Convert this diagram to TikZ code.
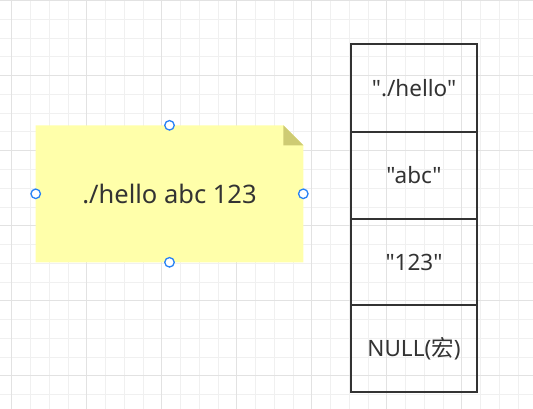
\documentclass[tikz,border=0pt]{standalone}
\usepackage{fontspec}
\setmainfont{Noto Sans}[Ligatures=TeXOff]
\newfontfamily\cjk{Noto Sans CJK SC}
\definecolor{gridminor}{RGB}{240,240,240}
\definecolor{gridmajor}{RGB}{226,226,226}
\definecolor{notefill}{RGB}{255,255,170}
\definecolor{foldfill}{RGB}{206,203,115}
\definecolor{ink}{RGB}{51,51,51}
\definecolor{handle}{RGB}{40,130,245}
\tikzset{
  cell/.style={draw=ink, line width=2.6pt, minimum width=125.7pt, minimum height=87pt, inner sep=0pt, text=ink, font=\fontsize{22.5}{26}\selectfont},
  grip/.style={circle, draw=handle, fill=white, line width=1.3pt, minimum size=9.5pt, inner sep=0pt},
  notetext/.style={text=ink, font=\fontsize{25.5}{30}\selectfont, inner sep=0pt}
}
\begin{document}
\begin{tikzpicture}[x=1pt,y=-1pt]
\useasboundingbox (0,0) rectangle (533,409);
\fill[white] (0,0) rectangle (533,409);
% grid
\foreach \i in {0,...,29} {
  \draw[gridminor, line width=0.9pt] ({11.7+18.75*(\i-1)},0) -- ({11.7+18.75*(\i-1)},409);
}
\foreach \i in {0,...,22} {
  \draw[gridminor, line width=0.9pt] (0,{0.7+18.75*\i}) -- (533,{0.7+18.75*\i});
}
\foreach \i in {0,...,7} {
  \draw[gridmajor, line width=1pt] ({11.7+75*\i},0) -- ({11.7+75*\i},409);
}
\foreach \i in {0,...,5} {
  \draw[gridmajor, line width=1pt] (0,{0.7+75*\i}) -- (533,{0.7+75*\i});
}
% note
\fill[notefill] (35.7,125.3) -- (283.3,125.3) -- (303.3,145.3) -- (303.3,262.3) -- (35.7,262.3) -- cycle;
\fill[foldfill] (283.3,125.3) -- (303.3,145.3) -- (283.3,145.3) -- cycle;
\node[notetext] (note) at (169.5,193.8) {./hello abc 123};
\coordinate (nn) at (169.5,125.3);
\coordinate (ns) at (169.5,262.3);
\coordinate (nw) at (35.7,193.8);
\coordinate (ne) at (303.3,193.8);
\node[grip] (h1) at (nn) {};
\node[grip] (h2) at (ns) {};
\node[grip] (h3) at (nw) {};
\node[grip] (h4) at (ne) {};
% table
\node[cell, minimum height=88pt] (c1) at (414,88) {"./hello"};
\node[cell, minimum height=87pt] (c2) at (414,175.5) {"abc"};
\node[cell, minimum height=86pt] (c3) at (414,262) {"123"};
\node[cell, minimum height=87pt] (c4) at (414,348.5) {NULL({\cjk 宏})};
\end{tikzpicture}
\end{document}
